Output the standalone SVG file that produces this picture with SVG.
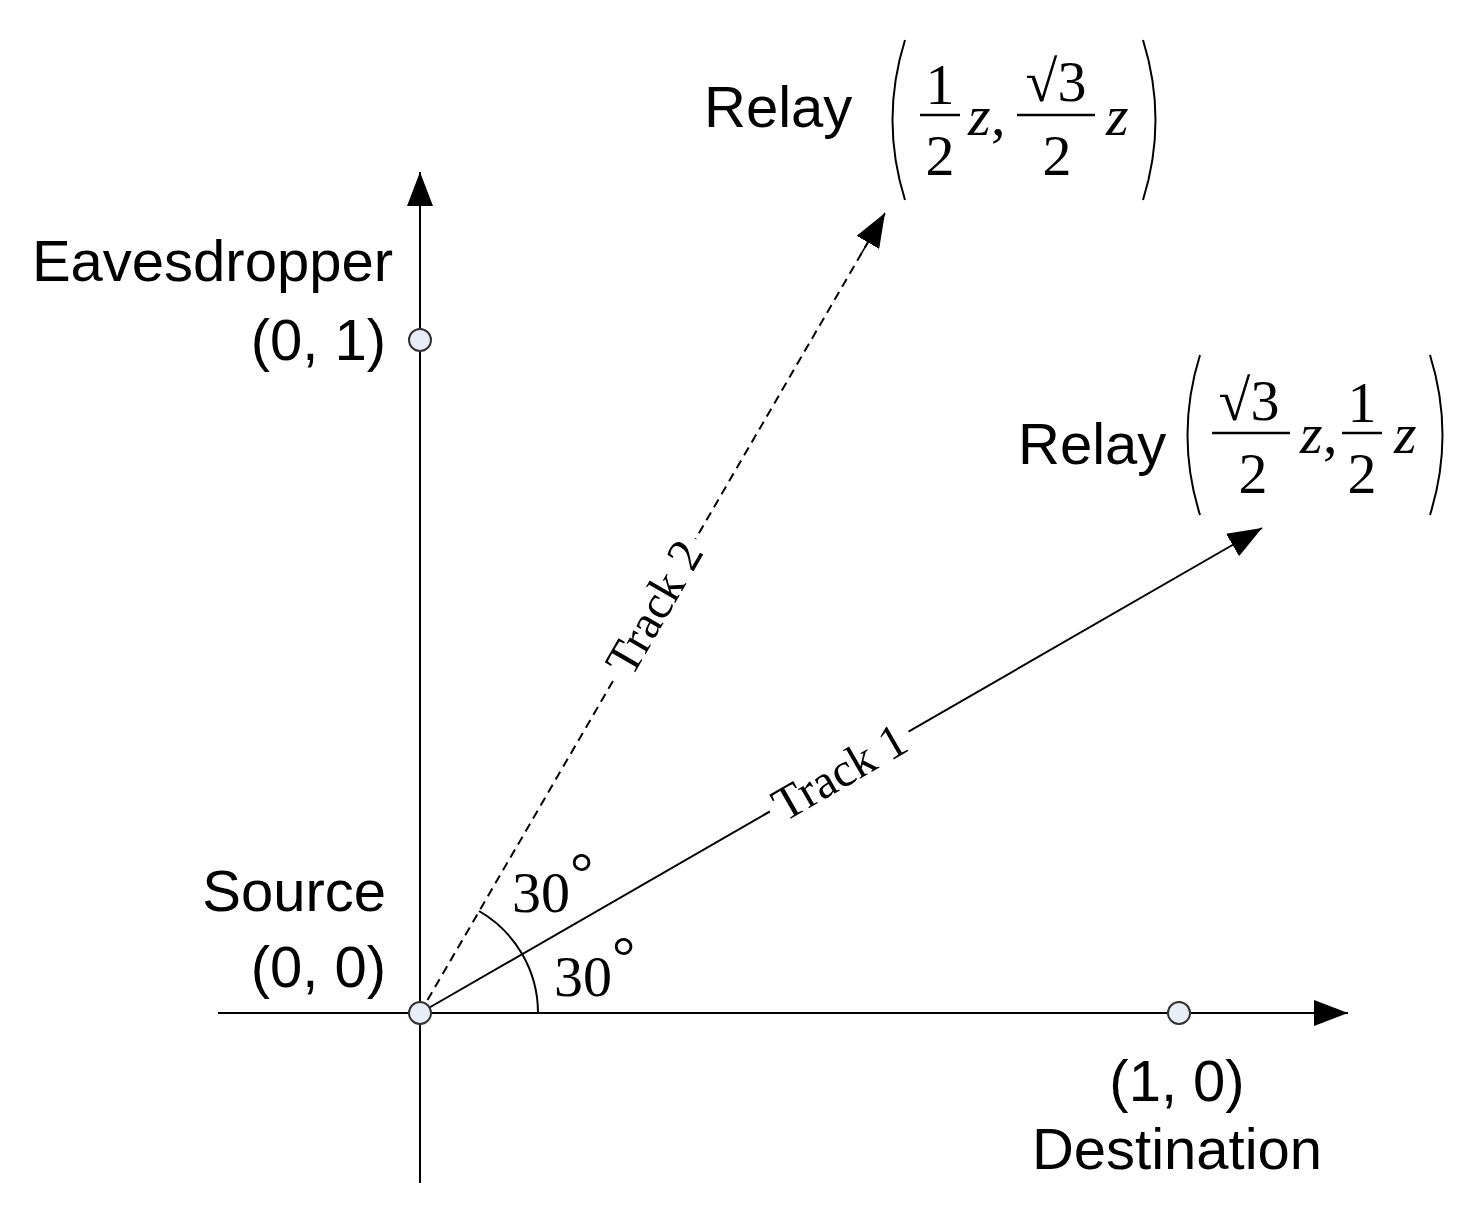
<svg xmlns="http://www.w3.org/2000/svg" width="1478" height="1214" viewBox="0 0 1478 1214">
<style>
.s{font-family:"Liberation Sans",Arial,sans-serif;font-size:58px;fill:#000}
.m{font-family:"Liberation Serif","Times New Roman",serif;font-size:58px;fill:#000}
.mi{font-family:"Liberation Serif","Times New Roman",serif;font-size:58px;font-style:italic;fill:#000}
.t{font-family:"Liberation Serif","Times New Roman",serif;font-size:48px;fill:#000}
.ln{stroke:#000;stroke-width:2;fill:none}
.nd{fill:#e8edf8;stroke:#333;stroke-width:2}
</style>
<defs>
<marker id="ah" markerWidth="34" markerHeight="26" refX="34" refY="13" orient="auto" markerUnits="userSpaceOnUse"><path d="M0,0 L34,13 L0,26 Z" fill="#000"/></marker>
</defs>
<rect width="1478" height="1214" fill="#fff"/>
<g id="connectors">
<line class="ln" x1="218" y1="1013" x2="1348" y2="1013" marker-end="url(#ah)" stroke="#333"/>
<line class="ln" x1="420" y1="1183" x2="420" y2="172" marker-end="url(#ah)" stroke="#333"/>
<line class="ln" x1="420" y1="1013" x2="1262" y2="528" marker-end="url(#ah)" stroke-width="1.5"/>
<line class="ln" x1="420" y1="1013" x2="885" y2="213" stroke-width="1.5" stroke-dasharray="9,6"/>
<path d="M860,256 L885,213" stroke="#000" stroke-width="1.5" marker-end="url(#ah)"/>
<path class="ln" d="M538,1013 A118,118 0 0 0 479,911" stroke-width="1.5"/>
<g transform="translate(655,608) rotate(-60)"><rect x="-80" y="-26" width="160" height="44" fill="#fff"/><text class="t" text-anchor="middle" y="15">Track 2</text></g>
<g transform="translate(840,773) rotate(-30)"><rect x="-80" y="-26" width="160" height="44" fill="#fff"/><text class="t" text-anchor="middle" y="15">Track 1</text></g>
<text class="m" x="512" y="912">30</text><text class="m" x="570" y="892" font-size="26">°</text>
<text class="m" x="554" y="996">30</text><text class="m" x="612" y="976" font-size="26">°</text>
</g>
<g id="source"><circle class="nd" cx="420" cy="1013" r="11"/>
<text class="s" x="386" y="911" text-anchor="end">Source</text>
<text class="s" x="386" y="987" text-anchor="end">(0, 0)</text></g>
<g id="eavesdropper"><circle class="nd" cx="420" cy="340" r="11"/>
<text class="s" x="393" y="281" text-anchor="end">Eavesdropper</text>
<text class="s" x="386" y="360" text-anchor="end">(0, 1)</text></g>
<g id="destination"><circle class="nd" cx="1179" cy="1013" r="11"/>
<text class="s" x="1177" y="1101" text-anchor="middle">(1, 0)</text>
<text class="s" x="1177" y="1169" text-anchor="middle">Destination</text></g>
<g id="relay2">
<text class="s" x="704" y="127">Relay</text>
<path d="M905,40 Q880,120 905,200" class="ln" stroke-width="2.5"/>
<path d="M1143,40 Q1168,120 1143,200" class="ln" stroke-width="2.5"/>
<text class="m" x="940" y="104" text-anchor="middle">1</text>
<line x1="920" y1="115" x2="960" y2="115" stroke="#000" stroke-width="2.5"/>
<text class="m" x="940" y="175" text-anchor="middle">2</text>
<text class="mi" x="968" y="135">z</text><text class="m" x="991" y="135">,</text>
<text class="m" x="1056" y="101" text-anchor="middle">√3</text>
<line x1="1017" y1="115" x2="1095" y2="115" stroke="#000" stroke-width="2.5"/>
<text class="m" x="1057" y="175" text-anchor="middle">2</text>
<text class="mi" x="1106" y="135">z</text>
</g>
<g id="relay1">
<text class="s" x="1018" y="464">Relay</text>
<path d="M1200,355 Q1175,435 1200,515" class="ln" stroke-width="2.5"/>
<path d="M1430,355 Q1455,435 1430,515" class="ln" stroke-width="2.5"/>
<text class="m" x="1249" y="420" text-anchor="middle">√3</text>
<line x1="1212" y1="433" x2="1290" y2="433" stroke="#000" stroke-width="2.5"/>
<text class="m" x="1253" y="493" text-anchor="middle">2</text>
<text class="mi" x="1300" y="453">z</text><text class="m" x="1323" y="453">,</text>
<text class="m" x="1362" y="422" text-anchor="middle">1</text>
<line x1="1342" y1="433" x2="1382" y2="433" stroke="#000" stroke-width="2.5"/>
<text class="m" x="1362" y="493" text-anchor="middle">2</text>
<text class="mi" x="1394" y="453">z</text>
</g>
</svg>
